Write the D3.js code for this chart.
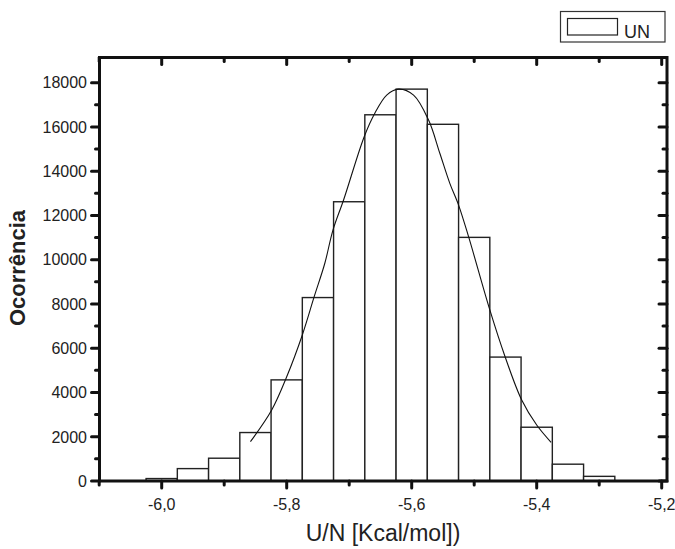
<!DOCTYPE html>
<html>
<head>
<meta charset="utf-8">
<script src="https://cdn.jsdelivr.net/npm/d3@7/dist/d3.min.js"></script>
<style>
  body { margin: 0; background: #fff; }
  svg { display: block; font-family: "Liberation Sans", Arial, sans-serif; }
</style>
</head>
<body>
<div id="chart"></div>
<script>
// histogram bins (centre of bin, count), bin width 0.05
var binCenters = [-6.00, -5.95, -5.90, -5.85, -5.80, -5.75, -5.70, -5.65, -5.60, -5.55, -5.50, -5.45, -5.40, -5.35, -5.30];
var binCounts  = [110, 560, 1030, 2190, 4570, 8290, 12620, 16550, 17710, 16120, 11010, 5600, 2430, 760, 210];
var binWidth = 0.05;

// fitted curve, points
var fitX = [-5.858, -5.824, -5.800, -5.775, -5.756, -5.739, -5.726, -5.709, -5.676, -5.659, -5.640, -5.621,
            -5.597, -5.573, -5.555, -5.539, -5.525, -5.509, -5.475, -5.451, -5.424, -5.400, -5.377];
var fitY = [1780, 3210, 4710, 6600, 8330, 9840, 11340, 12700, 15560, 16620, 17440, 17710,
            17440, 16310, 14810, 13450, 12470, 11040, 7730, 5650, 3660, 2530, 1750];

var xMajor = [-6.0, -5.8, -5.6, -5.4, -5.2];
var xMinor = [-6.1, -5.9, -5.7, -5.5, -5.3];
var yMajor = [0, 2000, 4000, 6000, 8000, 10000, 12000, 14000, 16000, 18000];
var yMinor = [1000, 3000, 5000, 7000, 9000, 11000, 13000, 15000, 17000];

var seriesName = "UN";
var xTitle = "U/N [Kcal/mol])";
var yTitle = "Ocorrência";

var W = 675, H = 549;
var frameL = 99.5, frameR = 667, frameT = 57.5, frameB = 481;

var x = d3.scaleLinear().domain([-6.0, -5.2]).range([161.7, 661.7]);
var y = d3.scaleLinear().domain([0, 18000]).range([481, 82.7]);

var svg = d3.select("#chart").append("svg")
    .attr("width", W)
    .attr("height", H);

var fmt = function(d) { return d3.format(".1f")(d).replace(".", ",").replace("−", "-"); };

// bars
svg.append("g").selectAll("rect")
    .data(binCenters)
    .enter().append("rect")
    .attr("x", function(d) { return x(d - binWidth / 2); })
    .attr("width", function(d) { return x(d + binWidth / 2) - x(d - binWidth / 2); })
    .attr("y", function(d, i) { return y(binCounts[i]); })
    .attr("height", function(d, i) { return y(0) - y(binCounts[i]); })
    .attr("fill", "#fff")
    .attr("stroke", "#222")
    .attr("stroke-width", 1.4);

// fit curve
var line = d3.line()
    .x(function(d, i) { return x(fitX[i]); })
    .y(function(d, i) { return y(fitY[i]); })
    .curve(d3.curveCatmullRom);

svg.append("path")
    .datum(fitX)
    .attr("d", line)
    .attr("fill", "none")
    .attr("stroke", "#111")
    .attr("stroke-width", 1.1);

// axes: bottom/left ticks outward, top/right ticks inward
var axis = svg.append("g").attr("stroke", "#111").attr("stroke-width", 3).attr("stroke-linecap", "round");
var xTicks = xMajor.concat(xMinor), yTicks = yMajor.concat(yMinor);

axis.selectAll(".xb").data(xTicks).enter().append("line")
    .attr("x1", function(d) { return x(d); }).attr("x2", function(d) { return x(d); })
    .attr("y1", frameB).attr("y2", function(d) { return xMajor.indexOf(d) >= 0 ? frameB + 7 : frameB + 4; });
axis.selectAll(".xt").data(xTicks).enter().append("line")
    .attr("x1", function(d) { return x(d); }).attr("x2", function(d) { return x(d); })
    .attr("y1", frameT).attr("y2", function(d) { return xMajor.indexOf(d) >= 0 ? frameT + 7 : frameT + 4; });
axis.selectAll(".yl").data(yTicks).enter().append("line")
    .attr("y1", function(d) { return y(d); }).attr("y2", function(d) { return y(d); })
    .attr("x1", frameL).attr("x2", function(d) { return yMajor.indexOf(d) >= 0 ? frameL - 8 : frameL - 4; });
axis.selectAll(".yr").data(yTicks).enter().append("line")
    .attr("y1", function(d) { return y(d); }).attr("y2", function(d) { return y(d); })
    .attr("x1", frameR).attr("x2", function(d) { return yMajor.indexOf(d) >= 0 ? frameR - 8 : frameR - 4; });

svg.append("rect")
    .attr("x", frameL).attr("y", frameT)
    .attr("width", frameR - frameL).attr("height", frameB - frameT)
    .attr("fill", "none").attr("stroke", "#111").attr("stroke-width", 3);

// tick labels
svg.append("g").selectAll("text").data(xMajor).enter().append("text")
    .attr("x", function(d) { return x(d); })
    .attr("y", 510)
    .attr("text-anchor", "middle")
    .attr("font-size", 16)
    .attr("fill", "#222")
    .text(fmt);

svg.append("g").selectAll("text").data(yMajor).enter().append("text")
    .attr("x", 87)
    .attr("y", function(d) { return y(d); })
    .attr("dy", "0.36em")
    .attr("text-anchor", "end")
    .attr("font-size", 16)
    .attr("fill", "#222")
    .text(function(d) { return d; });

// titles
svg.append("text")
    .attr("x", 383).attr("y", 541)
    .attr("text-anchor", "middle")
    .attr("font-size", 23)
    .attr("fill", "#222")
    .text(xTitle);

svg.append("text")
    .attr("transform", "translate(25,268) rotate(-90)")
    .attr("text-anchor", "middle")
    .attr("font-size", 22)
    .attr("font-weight", "bold")
    .attr("fill", "#222")
    .text(yTitle);

// legend
var legend = svg.append("g");
legend.append("rect")
    .attr("x", 560.5).attr("y", 11.5).attr("width", 104.5).attr("height", 30.5)
    .attr("fill", "#fff").attr("stroke", "#333").attr("stroke-width", 1.2);
legend.append("rect")
    .attr("x", 567.5).attr("y", 18.5).attr("width", 50).attr("height", 16.5)
    .attr("fill", "#fff").attr("stroke", "#222").attr("stroke-width", 1.2);
legend.append("text")
    .attr("x", 624).attr("y", 37.5)
    .attr("font-size", 18)
    .attr("fill", "#222")
    .text(seriesName);
</script>
</body>
</html>
